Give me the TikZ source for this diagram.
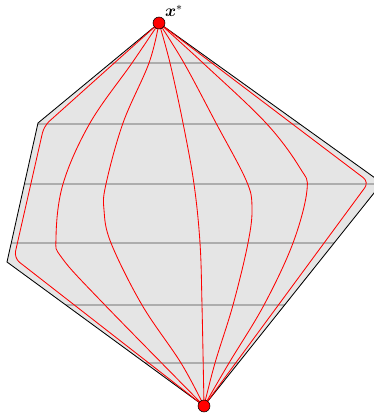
\documentclass[tikz,border=0pt]{standalone}
\usepackage{amsmath}
\usepackage{amssymb}
\usetikzlibrary{positioning}

\begin{document}
\begin{tikzpicture}[
  x=0.025cm, y=-0.025cm,
  regionFill/.style={fill=black!10},
  regionEdge/.style={draw=black, line width=0.6pt, line join=miter},
  levelLine/.style={black!32, line width=0.8pt},
  flowPath/.style={red, line width=0.6pt},
  endDot/.style={circle, fill=red, draw=black, line width=0.4pt,
                 inner sep=0pt, minimum size=8.5pt}
]
\useasboundingbox (0,0) rectangle (374,416);
\clip (0,0) rectangle (374,416);
% feasible region
\coordinate (p1) at (159,23);
\coordinate (p2) at (382,183);
\coordinate (p3) at (204,406);
\coordinate (p4) at (7,262);
\coordinate (p5) at (38,123);
\fill[regionFill] (p1) -- (p2) -- (p3) -- (p4) -- (p5) -- cycle;
\begin{scope}
  \clip (p1) -- (p2) -- (p3) -- (p4) -- (p5) -- cycle;
  \foreach \y in {63,124,184,243,305,363} \draw[levelLine] (0,\y) -- (374,\y);
\end{scope}
\draw[regionEdge] (p1) -- (p2) -- (p3) -- (p4) -- (p5) -- cycle;
% end points
\coordinate (top) at (159,23);
\coordinate (bot) at (204,406);
% paths between them
\draw[flowPath, rounded corners=5pt] (top) -- (44,126) -- (14,258) -- (bot);
\draw[flowPath] plot[smooth, tension=0.6] coordinates {(top) (132,63) (90,123) (63,184) (56,238) (62,258) (102,302) (bot)};
\draw[flowPath] plot[smooth, tension=0.6] coordinates {(top) (149,63) (123,123) (106,184) (104,210) (111,243) (142,305) (181,363) (bot)};
\draw[flowPath] plot[smooth, tension=0.6] coordinates {(top) (170,63) (183,123) (194,184) (200,243) (202,305) (bot)};
\draw[flowPath] plot[smooth, tension=0.6] coordinates {(top) (184,63) (216,123) (246,180) (252,207) (248,243) (233,305) (215,363) (bot)};
\draw[flowPath] plot[smooth, tension=0.6] coordinates {(top) (203,63) (266,123) (300,168) (307,190) (293,243) (264,305) (229,363) (bot)};
\draw[flowPath, rounded corners=5pt] (top) -- (369,182) -- (bot);
\node[endDot] (dotTop) at (top) {};
\node[endDot] (dotBot) at (bot) {};
\node[above right=0pt and 0pt of dotTop, inner sep=1pt, font=\large] (lbl) {$\boldsymbol{x}^*$};
\end{tikzpicture}
\end{document}
